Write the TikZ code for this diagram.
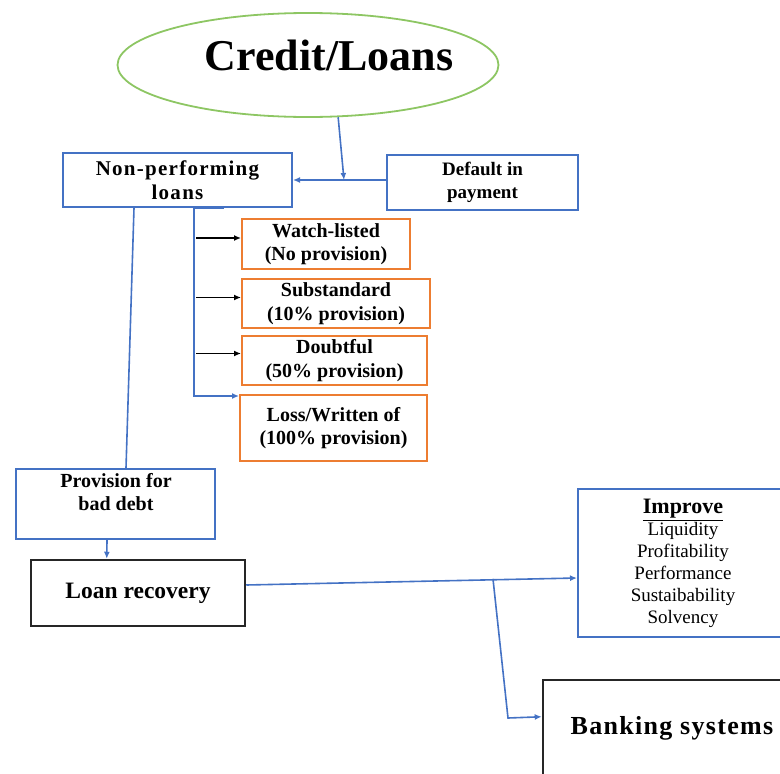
\documentclass[tikz,border=0pt]{standalone}
\usepackage{fontspec}
\setmainfont{Liberation Serif}
\newfontfamily\lsB[LetterSpace=6]{Liberation Serif}
\newfontfamily\lsD[LetterSpace=5]{Liberation Serif}
\usetikzlibrary{shapes.geometric,arrows.meta}
\definecolor{bl}{RGB}{68,114,196}
\definecolor{orng}{RGB}{237,125,49}
\definecolor{grn}{RGB}{141,198,99}
\begin{document}
\begin{tikzpicture}[x=1pt,y=-1pt,
 bluebox/.style={draw=bl,line width=2pt,rectangle,inner sep=0pt,align=center},
 orbox/.style={draw=orng,line width=2pt,rectangle,inner sep=0pt,align=center},
 blkbox/.style={draw=black!85,line width=2.5pt,rectangle,inner sep=0pt,align=center},
 lbl/.style={font={\bfseries\fontsize{20}{23.5}\selectfont}},
 lblwide/.style={font={\lsB\bfseries\fontsize{21}{23.5}\selectfont}},
 bline/.style={draw=bl,line width=1.6pt},
 barrow/.style={bline,-{Latex[length=7pt,width=6pt]}},
 karrow/.style={draw=black,line width=1.3pt,-{Latex[length=7pt,width=6pt]}}
]
\useasboundingbox (0,0) rectangle (780,774);
\clip (0,0) rectangle (780,774);
% title
\node[ellipse,draw=grn,line width=1.8pt,minimum width=381pt,minimum height=104pt] (ell) at (308,65) {};
\node[font={\bfseries\fontsize{44}{50}\selectfont}] (ttl) at (329,55) {Credit/Loans};
% top boxes
\node[bluebox,lblwide,minimum width=229pt,minimum height=54pt] (npl) at (177.5,180) {Non-performing\\loans};
\node[bluebox,font={\bfseries\fontsize{19}{23.5}\selectfont},minimum width=191pt,minimum height=55pt] (def) at (482.5,182.5) {Default in\\payment};
% classification boxes
\node[orbox,lbl,minimum width=168pt,minimum height=50pt] (wl) at (326,244) {Watch-listed\\(No provision)};
\node[orbox,lbl,minimum width=188pt,minimum height=49pt] (ss) at (336,303.5) {Substandard\\(10\% provision)};
\node[orbox,lbl,minimum width=185pt,minimum height=49pt] (db) at (334.5,360.5) {Doubtful\\(50\% provision)};
\node[orbox,lbl,minimum width=187pt,minimum height=66pt] (ls) at (333.5,428) {Loss/Written of\\(100\% provision)};
% provision
\node[bluebox,minimum width=199pt,minimum height=70pt] (prov) at (115.5,504) {};
\node[lbl,align=center] (provt) at (116,492) {Provision for\\bad debt};
% loan recovery
\node[blkbox,font={\bfseries\fontsize{23.5}{26}\selectfont},minimum width=214pt,minimum height=66pt] (rec) at (138,593) {Loan recovery};
% improve
\node[bluebox,minimum width=302pt,minimum height=148pt] (imp) at (729,563) {};
\node[anchor=north,align=center,font={\fontsize{19}{22}\selectfont}] (impt) at (683,496)
 {{\bfseries\fontsize{22}{22}\selectfont\underline{Improve}}\\Liquidity\\Profitability\\Performance\\Sustaibability\\Solvency};
% banking
\node[blkbox,minimum width=314pt,minimum height=160pt] (bank) at (700,760) {};
\node[font={\lsD\bfseries\fontsize{26}{30}\selectfont}] (bankt) at (672,728) {Banking systems};
% connectors
\coordinate (j1) at (344,180);
\draw[barrow] (ell.-60) -- (j1);
\draw[barrow] (def.west |- j1) -- (npl.east |- j1);
\draw[bline] ([xshift=72pt]npl.south west) -- ([xshift=111pt]prov.north west);
\draw[barrow] ([xshift=162pt]npl.south west) -- ([xshift=132pt]npl.south west) |- ([yshift=-2pt]ls.north west);
\draw[karrow] ([shift={(-45pt,6pt)}]wl.west) -- ([yshift=6pt]wl.west);
\draw[karrow] ([shift={(-45pt,6pt)}]ss.west) -- ([yshift=6pt]ss.west);
\draw[karrow] ([shift={(-45pt,7pt)}]db.west) -- ([yshift=7pt]db.west);
\draw[barrow] ([xshift=92pt]prov.south west) -- ([xshift=77pt]rec.north west);
\draw[barrow] ([yshift=8pt]rec.east) -- ([yshift=-15pt]imp.west);
\coordinate (br) at (493,579);
\coordinate (bk) at (508,718);
\draw[barrow] (br) -- (bk) -- ([yshift=-38pt]bank.north west);
\end{tikzpicture}
\end{document}
